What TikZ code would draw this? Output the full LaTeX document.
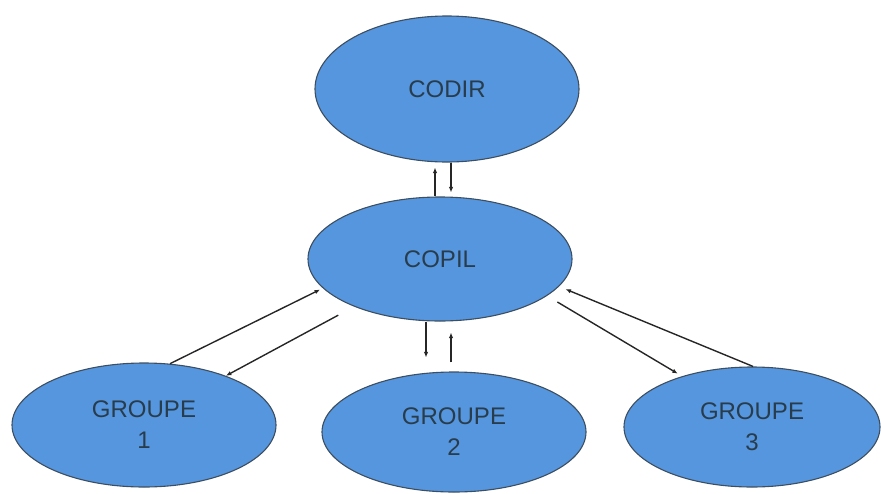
\documentclass[tikz,border=0pt]{standalone}
\usepackage{fontspec}
\setmainfont{Liberation Sans}
\usetikzlibrary{shapes.geometric,arrows.meta}
\definecolor{bleubulle}{RGB}{85,150,222}
\definecolor{bordbulle}{RGB}{60,78,96}
\definecolor{textebulle}{RGB}{40,60,75}

\begin{document}
\begin{tikzpicture}[x=1pt, y=-1pt,
        bulle/.style={draw=bordbulle, line width=1.1pt, fill=bleubulle, ellipse, inner sep=0pt,
            align=center, text=textebulle, font=\fontsize{24}{31}\selectfont},
        fleche/.style={-{Latex[length=5.5pt,width=4.5pt]}, line width=1.4pt, draw=black!85}]
        \useasboundingbox (0,0) rectangle (881,493);

        \node (codir) [bulle, minimum width=264pt, minimum height=146pt] at (447,89) {CODIR};
        \node (copil) [bulle, minimum width=264pt, minimum height=124pt] at (440,259) {COPIL};
        \node (g1) [bulle, minimum width=264pt, minimum height=124pt] at (144,425) {GROUPE\\1};
        \node (g2) [bulle, minimum width=264pt, minimum height=120pt] at (454,432) {GROUPE\\2};
        \node (g3) [bulle, minimum width=256pt, minimum height=120pt] at (752,427) {GROUPE\\3};

        % CODIR <-> COPIL
        \draw[fleche, shorten >=5pt] ([xshift=-5pt]copil.north) -- ([xshift=-12pt]codir.south);
        \draw[fleche, shorten >=4pt] ([xshift=4pt]codir.south) -- ([xshift=11pt]copil.north);

        % COPIL <-> groupes
        \draw[fleche, shorten >=3pt] (g1.67) -- (copil.194);
        \draw[fleche, shorten <=18pt] (copil.209) -- (g1.31);
        \draw[fleche, shorten >=14pt] ([xshift=-14pt]copil.south) -- ([xshift=-28pt]g2.north);
        \draw[fleche, shorten <=9pt, shorten >=11pt] ([xshift=-3pt]g2.north) -- ([xshift=11pt]copil.south);
        \draw[fleche, shorten >=7pt] (g3.89) -- (copil.347);
        \draw[fleche, shorten <=12pt, shorten >=5pt] (copil.341) -- (g3.144);
    \end{tikzpicture}
\end{document}
